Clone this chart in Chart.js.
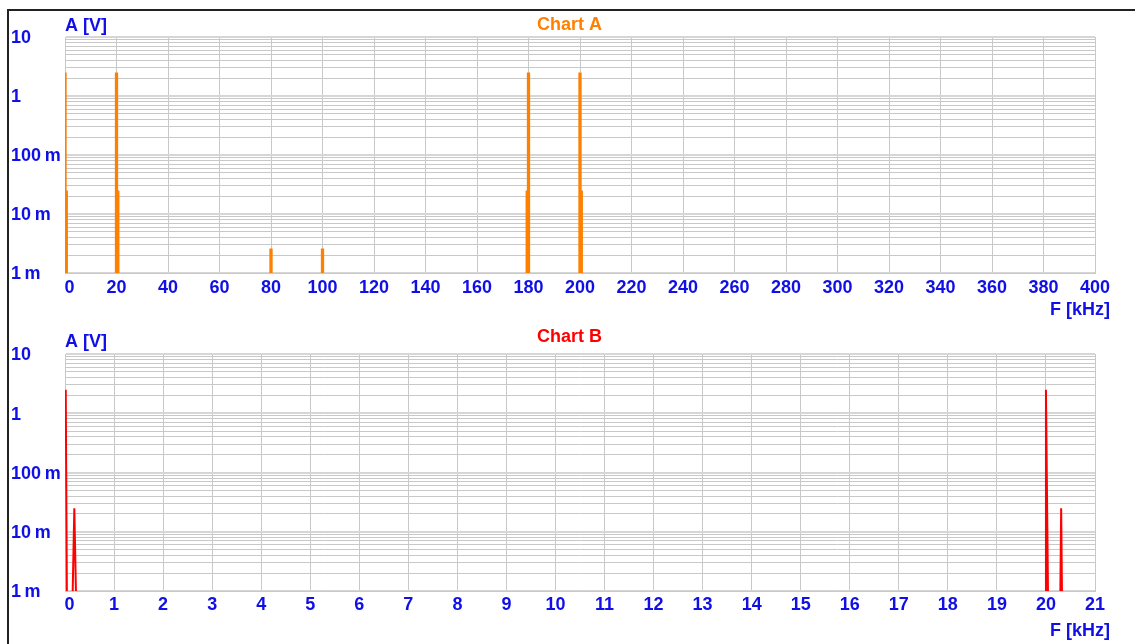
<!DOCTYPE html>
<html>
<head>
<meta charset="utf-8">
<title>Chart A / Chart B</title>
<script src="https://cdn.jsdelivr.net/npm/chart.js@4.4.1/dist/chart.umd.min.js"></script>
<style>
  html, body { margin: 0; padding: 0; background: #fff; overflow: hidden; }
  body { width: 1135px; height: 644px; position: relative; }
  .frame { position: absolute; left: 7px; top: 9px; width: 1200px; height: 700px;
           border-left: 2px solid #222; border-top: 2px solid #222; }
  canvas { position: absolute; left: 0; }
  #chartA { top: 0; }
  #chartB { top: 317px; }
</style>
</head>
<body>
<div class="frame"></div>
<canvas id="chartA" width="1135" height="330"></canvas>
<canvas id="chartB" width="1135" height="327"></canvas>
<script>
// Chart A: spectral lines, frequency in kHz, amplitude in V
const freqA = [0, 0.5, 20, 20.5, 80, 100, 179.5, 180, 200, 200.5];
const ampA = [2.5, 0.025, 2.5, 0.025, 0.0026, 0.0026, 0.025, 2.5, 2.5, 0.025];

// Chart B: zoomed spectrum trace (values under 1 m are below the axis)
const freqB = [0.015, 0.04, 0.15, 0.19, 0.23, 19.995, 20, 20.045, 20.29, 20.31, 20.33];
const ampB = [2.5, 0.0005, 0.0005, 0.025, 0.0005, 0.0005, 2.5, 0.0005, 0.0005, 0.025, 0.0005];

const yTickVals = [0.001, 0.01, 0.1, 1, 10];
const yTickLabels = ["1\u2009m", "10\u2009m", "100\u2009m", "1", "10"];

const blue = "#1010e6";
const gridColor = "#c8c8c8";
const decadeColor = "#d6d6d6";
const fontFamily = '"Liberation Sans", Arial, sans-serif';

Chart.defaults.font.family = fontFamily;

function decadeIndex(v) {
  return yTickVals.findIndex((d) => Math.abs(v / d - 1) < 1e-6);
}

// 1..9 in every decade, like a classic log paper
function logTicks(scale) {
  let ticks = [];
  yTickVals.forEach((d, i) => {
    if (i == yTickVals.length - 1) {
      ticks.push({ value: d });
      return;
    }
    for (let m = 1; m < 10; m++) ticks.push({ value: m * d });
  });
  scale.ticks = ticks;
}

// each line goes from the bottom of the axis up to its amplitude
function spikes(freqs, amps) {
  let pts = [];
  freqs.forEach((f, i) => {
    pts.push({ x: f, y: yTickVals[0] }, { x: f, y: amps[i] }, { x: f, y: null });
  });
  return pts;
}

// chart title + axis names (A [V] top-left, F [kHz] bottom-right)
const chartTexts = {
  id: "chartTexts",
  afterDraw(chart, args, opts) {
    const { ctx, chartArea } = chart;
    ctx.save();
    ctx.font = "bold 18px " + fontFamily;
    ctx.textBaseline = "middle";
    ctx.textAlign = "center";
    ctx.fillStyle = opts.titleColor;
    ctx.fillText(opts.title, chart.width / 2 + 2, opts.titleY);
    ctx.fillStyle = blue;
    ctx.textAlign = "left";
    ctx.fillText(opts.yName, chartArea.left, chartArea.top - opts.yGap);
    ctx.textAlign = "right";
    ctx.fillText(opts.xName, chartArea.right + 15, chartArea.bottom + opts.xGap);
    ctx.restore();
  },
};

function makeOptions(cfg) {
  return {
    responsive: false,
    animation: false,
    layout: { padding: { left: 11, right: 40, top: 37, bottom: 0 } },
    plugins: {
      legend: { display: false },
      tooltip: { enabled: false },
      title: { display: false },
      chartTexts: {
        title: cfg.title, titleColor: cfg.color, titleY: cfg.titleY,
        yName: "A [V]", xName: "F [kHz]", yGap: cfg.yGap, xGap: cfg.xGap,
      },
    },
    scales: {
      x: {
        type: "linear",
        min: 0,
        max: cfg.xMax,
        afterFit: (s) => { s.height = cfg.xHeight; },
        border: { color: gridColor },
        grid: { drawTicks: false, color: gridColor },
        ticks: {
          stepSize: cfg.xStep,
          autoSkip: false,
          maxRotation: 0,
          padding: cfg.tickPad,
          color: blue,
          font: { size: 18, weight: "bold" },
          callback: (v) => (v === 0 ? "\u2002" + v : String(v)),
        },
      },
      y: {
        type: "logarithmic",
        min: yTickVals[0],
        max: yTickVals[yTickVals.length - 1],
        afterBuildTicks: logTicks,
        afterFit: (s) => { s.width = 54; },
        border: { color: gridColor },
        grid: {
          drawTicks: false,
          color: (c) => (decadeIndex(c.tick.value) >= 0 ? decadeColor : gridColor),
          lineWidth: (c) => (decadeIndex(c.tick.value) >= 0 ? 2 : 1),
        },
        ticks: {
          autoSkip: false,
          crossAlign: "far",
          padding: 0,
          labelOffset: 1.5,
          color: blue,
          font: { size: 18, weight: "bold" },
          callback: (v) => {
            const i = decadeIndex(v);
            return i < 0 ? "" : yTickLabels[i];
          },
        },
      },
    },
  };
}

new Chart(document.getElementById("chartA"), {
  type: "line",
  data: {
    datasets: [
      {
        data: spikes(freqA, ampA),
        borderColor: "#ff8000",
        borderWidth: 3.3,
        borderCapStyle: "butt",
        pointRadius: 0,
        spanGaps: false,
        clip: 0,
      },
    ],
  },
  options: makeOptions({
    title: "Chart A", color: "#ff8000", titleY: 25,
    xMax: 400, xStep: 20, xHeight: 57, tickPad: 4, yGap: 11, xGap: 37,
  }),
  plugins: [chartTexts],
});

new Chart(document.getElementById("chartB"), {
  type: "line",
  data: {
    datasets: [
      {
        data: freqB.map((f, i) => ({ x: f, y: ampB[i] })),
        borderColor: "#ff0000",
        borderWidth: 2,
        borderJoinStyle: "bevel",
        pointRadius: 0,
        clip: 0,
      },
    ],
  },
  options: makeOptions({
    title: "Chart B", color: "#ff0000", titleY: 20,
    xMax: 21, xStep: 1, xHeight: 53, tickPad: 3, yGap: 12, xGap: 40,
  }),
  plugins: [chartTexts],
});
</script>
</body>
</html>
